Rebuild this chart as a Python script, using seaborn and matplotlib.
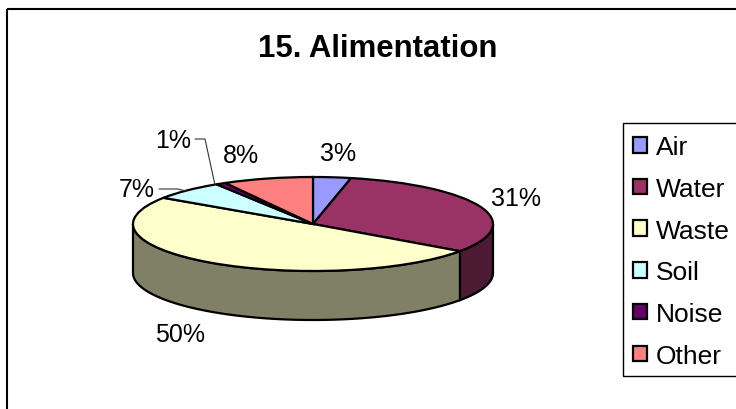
import numpy as np
import matplotlib
matplotlib.use('Agg')
import matplotlib.pyplot as plt
from matplotlib.patches import Rectangle
import seaborn as sns

# Data (slice sizes estimated, labels round them)
categories = ['Air', 'Water', 'Waste', 'Soil', 'Noise', 'Other']
values = [3.4, 31.4, 49.6, 6.6, 0.9, 8.1]
title = '15. Alimentation'

top_colors = ['#9999FF', '#993366', '#FFFFCC', '#CCFFFF', '#660066', '#FF8080']
side_colors = ['#4D4D80', '#4D1A33', '#808066', '#668080', '#330033', '#804040']

sns.set_theme(style='white')
plt.rcParams['font.family'] = ['Liberation Sans', 'DejaVu Sans']

W, H = 736, 410
fig = plt.figure(figsize=(W / 100, H / 100), dpi=100, facecolor='white')

# Pie axes: 360x94 px ellipse with a 49 px deep wall under it
depth = 49 / 47
left, right, top, bottom = 133, 493, 178, 321
pie_ax = fig.add_axes([left / W, 1 - bottom / H, (right - left) / W, (bottom - top) / H])

# Front wall of the pie, built from the slice angles
palette = sns.color_palette(top_colors)
starts = np.cumsum([0] + values[:-1]) * 3.6
ends = np.cumsum(values) * 3.6
for a, b, c in zip(starts, ends, side_colors):
    lo, hi = max(a, 90), min(b, 270)
    if lo >= hi:
        continue
    t = np.radians(np.linspace(lo, hi, 80))
    xs = np.concatenate([np.sin(t), np.sin(t)[::-1]])
    ys = np.concatenate([np.cos(t), np.cos(t)[::-1] - depth])
    pie_ax.fill(xs, ys, facecolor=c, edgecolor='black', linewidth=1.6, clip_on=False)

wedges, _ = pie_ax.pie(values, colors=palette, startangle=90, counterclock=False,
                       wedgeprops=dict(edgecolor='black', linewidth=1.6))
for w in wedges:
    w.set_clip_on(False)
pie_ax.set_aspect('auto')
pie_ax.set_xlim(-1, 1)
pie_ax.set_ylim(-1 - depth, 1)

# Overlay in pixel coordinates for frame, title, labels and legend
ax = fig.add_axes([0, 0, 1, 1])
ax.set_xlim(0, W)
ax.set_ylim(H, 0)
ax.axis('off')
ax.patch.set_alpha(0)

ax.add_patch(Rectangle((7, 10), 800, 500, fill=False, edgecolor='black', linewidth=1.5))
ax.text(378, 49, title, ha='center', va='center', fontsize=22.4, fontweight='bold', color='black')

label_xy = [(338, 154.5), (516, 199.5), (180, 335.5), (137, 190), (173, 141), (241, 156.5)]
for v, (x, y) in zip(values, label_xy):
    ax.text(x, y, f'{max(round(v), 1)}%', ha='center', va='center', fontsize=18, color='black')

# Leader lines for the two small slices
ax.plot([195, 205, 215], [140, 140, 186], color='#333333', linewidth=0.8)
ax.plot([159, 178, 186], [190, 190, 192], color='#333333', linewidth=0.8)

ax.add_patch(Rectangle((623, 124), 200, 253, fill=False, edgecolor='black', linewidth=1))
ax.legend(wedges, categories, loc='upper left', bbox_to_anchor=(624, 127),
          bbox_transform=ax.transData, frameon=False, fontsize=19, borderpad=0.35,
          borderaxespad=0, handlelength=0.53, handleheight=0.53, handletextpad=0.34,
          labelspacing=0.67, labelcolor='black')

fig.savefig('out.png', dpi=100)
